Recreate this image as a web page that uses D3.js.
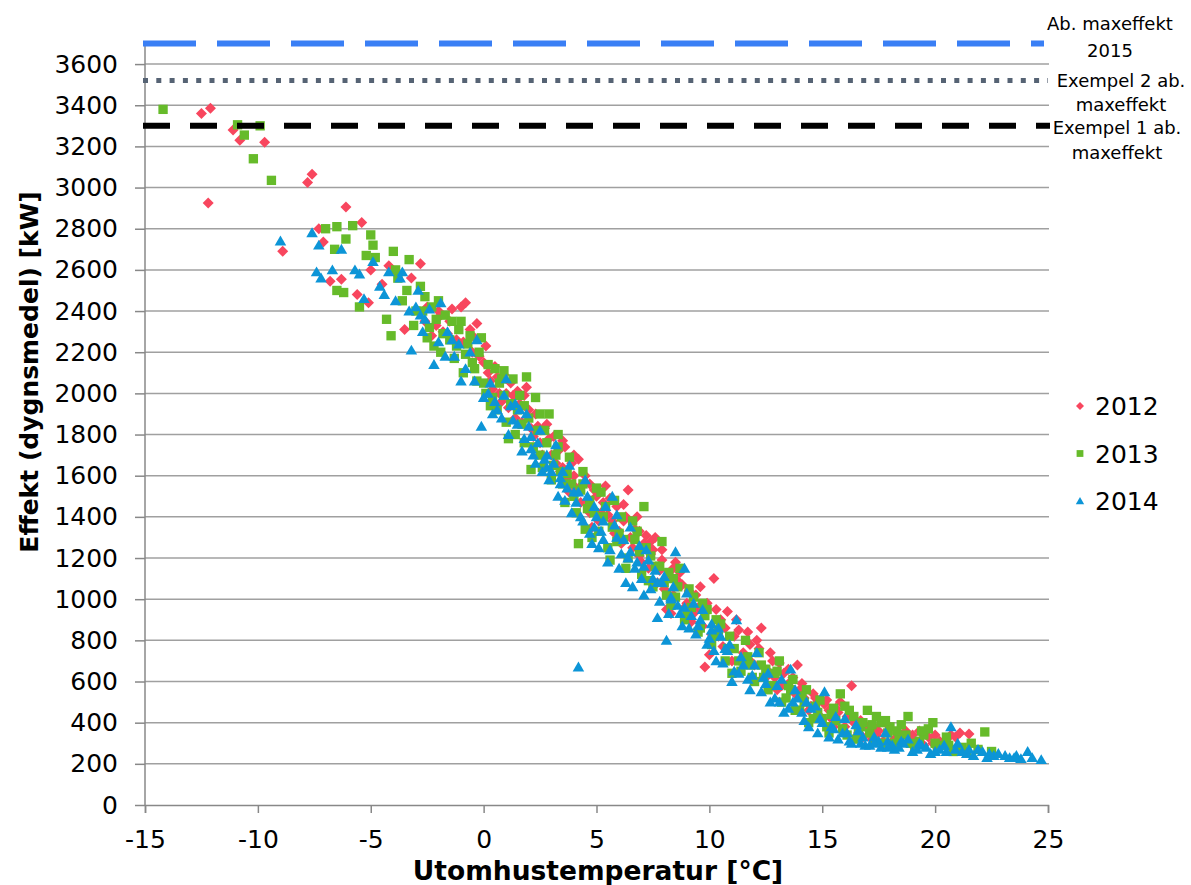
<!DOCTYPE html>
<html>
<head>
<meta charset="utf-8">
<script src="https://cdn.jsdelivr.net/npm/d3@7/dist/d3.min.js"></script>
<style>
  body { margin: 0; background: #fff; }
  text { font-family: 'DejaVu Sans', Verdana, sans-serif; fill: #000; }
</style>
</head>
<body>
<svg id="chart" width="1191" height="885"></svg>
<script>
// [temperatur, effekt]
const data2012 = [
  [-12.5, 3360], [-12.1, 3385], [-12.2, 2925], [-11.1, 3280], [-10.8, 3230], [-9.7, 3220],
  [-7.8, 3025], [-7.6, 3065], [-8.9, 2690], [-7.3, 2800], [-7.1, 2735], [-6.1, 2905],
  [-5.4, 2830], [-6.8, 2545], [-6.3, 2555], [-5.6, 2480], [-5.1, 2440], [-5.0, 2600],
  [-4.5, 2530], [-4.2, 2620], [-3.5, 2310], [-3.2, 2560], [-2.8, 2630], [-2.6, 2350],
  [-2.3, 2280], [-2.0, 2400], [-1.8, 2300], [-1.5, 2350], [-1.2, 2260], [-1.0, 2420],
  [-0.8, 2440], [-0.5, 2200], [-0.3, 2340], [0.0, 2150], [0.2, 2100], [0.4, 2020],
  [0.6, 2080], [0.8, 1960], [1.0, 2000], [1.2, 2050], [1.4, 1880], [1.6, 1950],
  [1.9, 2030], [2.1, 1830], [2.3, 1900], [2.5, 1760], [2.8, 1850], [3.0, 1700],
  [3.1, 1790], [3.4, 1620], [3.6, 1740], [3.8, 1520], [4.0, 1600], [4.2, 1680],
  [4.4, 1560], [4.6, 1480], [4.8, 1350], [5.0, 1500], [5.2, 1420], [5.4, 1550],
  [5.7, 1380], [6.0, 1330], [6.2, 1460], [6.4, 1530], [6.6, 1250], [6.8, 1400],
  [7.0, 1180], [7.2, 1310], [7.4, 1220], [7.6, 1300], [7.8, 1140], [8.0, 1050],
  [8.1, 950], [8.3, 930], [8.5, 1180], [8.8, 1070], [9.0, 980], [9.2, 890],
  [9.5, 960], [9.8, 670], [10.0, 730], [10.2, 1100], [10.4, 820], [10.6, 770],
  [10.8, 940], [11.0, 700], [11.3, 850], [11.6, 720], [11.8, 780], [12.0, 680],
  [12.3, 860], [12.5, 620], [12.8, 700], [13.0, 560], [13.3, 640], [13.6, 600],
  [13.9, 680], [14.2, 520], [14.5, 480], [14.8, 500], [15.0, 420], [15.3, 460],
  [15.5, 380], [15.8, 500], [16.1, 430], [16.3, 580], [16.6, 350], [16.9, 390],
  [17.2, 320], [17.5, 360], [17.8, 400], [18.1, 310], [18.5, 340], [18.9, 300],
  [19.3, 360], [19.7, 330], [20.2, 310], [20.7, 340], [21.1, 350], [21.5, 345],
  [-2.5, 2420], [-2.1, 2330], [-1.6, 2290], [-1.4, 2410], [-0.9, 2250], [-0.6, 2310],
  [-0.2, 2180], [0.1, 2230], [0.3, 2060], [0.7, 2000], [0.9, 2090], [1.1, 1930],
  [1.3, 1990], [1.5, 2010], [1.7, 1860], [2.0, 1920], [2.2, 1790], [2.4, 1840],
  [2.6, 1700], [2.9, 1780], [3.2, 1660], [3.3, 1720], [3.5, 1640], [3.7, 1590],
  [3.9, 1660], [4.1, 1540], [4.3, 1470], [4.5, 1600], [4.7, 1420], [4.9, 1530],
  [5.1, 1380], [5.3, 1470], [5.5, 1410], [5.8, 1320], [5.9, 1450], [6.1, 1270],
  [6.3, 1400], [6.5, 1300], [6.7, 1340], [6.9, 1210], [7.1, 1270], [7.3, 1150],
  [7.5, 1240], [7.7, 1080], [7.9, 1190], [8.2, 1120], [8.4, 1020], [8.6, 1090],
  [8.9, 960], [9.1, 1040], [9.3, 930], [9.7, 870], [9.9, 980], [10.1, 830],
  [10.5, 900], [10.9, 760], [11.1, 820], [11.5, 740], [11.9, 690], [12.2, 760],
  [12.6, 650], [12.9, 620], [13.2, 580], [13.5, 660], [13.8, 540], [14.1, 590],
  [14.4, 460], [14.7, 520], [15.1, 490], [15.4, 420], [15.7, 450], [16.0, 380],
  [16.4, 400], [16.8, 330], [17.1, 370], [17.4, 340], [17.7, 310], [18.3, 330],
  [18.7, 360], [19.1, 310], [19.5, 290], [20.0, 340], [20.5, 300],
  [-1.9, 2380], [-0.4, 2270], [0.5, 2130], [1.8, 1990], [2.7, 1830], [3.5, 1770],
  [4.0, 1700], [4.7, 1560], [5.6, 1490], [6.2, 1380], [6.9, 1330], [7.4, 1280],
  [7.9, 1240], [8.4, 1150], [8.7, 1130], [9.4, 1020], [9.6, 1060], [10.3, 950],
  [10.7, 860], [11.2, 900], [11.7, 840], [12.1, 800], [12.7, 740], [13.1, 690],
  [13.7, 620], [14.0, 560], [14.6, 540], [15.2, 510], [15.6, 470], [16.2, 440],
  [16.7, 410], [17.3, 380], [17.9, 350], [18.4, 320], [19.0, 340], [19.9, 300],
  [20.9, 330]
];

const data2013 = [
  [-14.2, 3380], [-10.9, 3305], [-10.6, 3255], [-10.2, 3140], [-9.9, 3300], [-9.4, 3035],
  [-7.0, 2800], [-6.5, 2810], [-5.8, 2815], [-6.6, 2700], [-6.1, 2750], [-5.0, 2770],
  [-4.9, 2720], [-5.2, 2670], [-4.8, 2660], [-6.5, 2500], [-6.2, 2490], [-5.5, 2420],
  [-4.3, 2360], [-4.1, 2280], [-4.0, 2690], [-3.8, 2560], [-3.6, 2450], [-3.3, 2650],
  [-3.0, 2400], [-2.8, 2520], [-2.6, 2470], [-2.4, 2320], [-2.2, 2230], [-2.0, 2450],
  [-1.9, 2200], [-1.7, 2380], [-1.5, 2260], [-1.3, 2170], [-1.1, 2310], [-0.9, 2100],
  [-0.7, 2240], [-0.5, 2150], [-0.3, 2060], [-0.1, 2270], [0.1, 2000], [0.3, 1940],
  [0.5, 2120], [0.7, 2050], [0.9, 1990], [1.1, 1780], [1.3, 2070], [1.5, 1920],
  [1.7, 1850], [1.9, 2080], [2.1, 1630], [2.3, 1980], [2.5, 1700], [2.7, 1820],
  [2.9, 1900], [3.1, 1650], [3.3, 1740], [3.5, 1560], [3.8, 1690], [4.0, 1500],
  [4.2, 1270], [4.4, 1620], [4.6, 1440], [4.8, 1300], [5.0, 1540], [5.3, 1400],
  [5.5, 1250], [5.8, 1480], [6.0, 1320], [6.3, 1150], [6.6, 1380], [6.9, 1230],
  [7.1, 1450], [7.3, 1090], [7.6, 1160], [7.9, 1280], [8.1, 1020], [8.4, 1100],
  [8.7, 1150], [9.0, 930], [9.3, 1010], [9.6, 860], [9.9, 950], [10.2, 820],
  [10.5, 880], [10.8, 760], [11.0, 640], [11.3, 700], [11.6, 800], [11.9, 620],
  [12.2, 740], [12.5, 660], [12.8, 580], [13.1, 700], [13.4, 520], [13.7, 610],
  [14.0, 460], [14.3, 560], [14.6, 420], [14.9, 510], [15.2, 380], [15.5, 470],
  [15.8, 540], [16.1, 340], [16.4, 430], [16.7, 380], [17.0, 460], [17.3, 310],
  [17.6, 400], [17.9, 350], [18.2, 300], [18.5, 390], [18.8, 430], [19.1, 280],
  [19.5, 340], [19.9, 400], [20.3, 290], [20.8, 260], [21.2, 280], [21.6, 300],
  [22.2, 355], [22.5, 260],
  [-3.9, 2600], [-3.4, 2500], [-3.1, 2330], [-2.7, 2400], [-2.5, 2270], [-2.1, 2360],
  [-1.8, 2290], [-1.4, 2350], [-1.2, 2230], [-0.8, 2190], [-0.6, 2280], [-0.4, 2120],
  [-0.2, 2200], [0.0, 2050], [0.2, 2140], [0.4, 1980], [0.6, 1920], [0.8, 2070],
  [1.0, 1860], [1.2, 1950], [1.4, 1800], [1.6, 1990], [1.8, 1760], [2.0, 1880],
  [2.2, 1740], [2.4, 1820], [2.6, 1640], [2.8, 1760], [3.0, 1580], [3.2, 1700],
  [3.4, 1620], [3.6, 1470], [3.9, 1560], [4.1, 1420], [4.3, 1530], [4.5, 1340],
  [4.7, 1480], [4.9, 1420], [5.1, 1330], [5.4, 1450], [5.6, 1190], [5.9, 1280],
  [6.1, 1400], [6.4, 1200], [6.7, 1290], [7.0, 1120], [7.2, 1250], [7.5, 1060],
  [7.8, 1160], [8.0, 1080], [8.3, 970], [8.6, 1060], [8.9, 900], [9.2, 960],
  [9.5, 840], [9.8, 920], [10.1, 780], [10.4, 850], [10.7, 700], [11.1, 760],
  [11.4, 650], [11.7, 720], [12.0, 600], [12.3, 680], [12.6, 560], [12.9, 640],
  [13.2, 500], [13.5, 580], [13.8, 460], [14.1, 530], [14.4, 400], [14.7, 480],
  [15.0, 420], [15.3, 350], [15.6, 410], [15.9, 370], [16.2, 460], [16.5, 320],
  [16.8, 400], [17.1, 350], [17.4, 430], [17.7, 300], [18.0, 380], [18.4, 320],
  [18.7, 340], [19.3, 310], [19.7, 370], [20.1, 280], [20.6, 290], [21.4, 260],
  [21.9, 270],
  [-2.3, 2420], [-1.0, 2350], [0.9, 2110], [1.8, 1940], [2.5, 1900], [3.3, 1800],
  [3.7, 1610], [4.4, 1560], [5.2, 1520], [5.7, 1350], [6.2, 1290], [6.8, 1330],
  [7.4, 1210], [8.2, 1130], [8.5, 1010], [9.1, 1050], [9.7, 980], [10.3, 900],
  [10.9, 820], [11.5, 700], [11.8, 680], [12.4, 620], [13.0, 650], [13.6, 560],
  [14.2, 500], [14.8, 450], [15.4, 440], [16.0, 480], [16.6, 360], [17.2, 390],
  [17.8, 410], [18.3, 360], [18.9, 300], [19.4, 360], [20.0, 300], [20.5, 330],
  [21.0, 270]
];

const data2014 = [
  [-9.0, 2740], [-7.6, 2780], [-7.3, 2720], [-6.7, 2600], [-7.4, 2590], [-7.2, 2560],
  [-6.3, 2700], [-5.7, 2600], [-5.5, 2580], [-5.3, 2460], [-4.9, 2640], [-4.6, 2520],
  [-4.2, 2590], [-3.9, 2450], [-3.6, 2590], [-3.3, 2400], [-3.2, 2210], [-2.9, 2500],
  [-2.6, 2360], [-2.2, 2140], [-1.9, 2440], [-1.6, 2300], [-1.3, 2180], [-1.0, 2060],
  [-0.6, 2200], [-0.3, 2260], [-0.1, 1840], [0.2, 2000], [0.5, 1960], [0.8, 1880],
  [1.0, 2070], [1.2, 1940], [1.5, 1850], [1.7, 1720], [1.9, 1900], [2.1, 1790],
  [2.3, 1660], [2.5, 1820], [2.8, 1700], [3.0, 1620], [3.2, 1750], [3.4, 1560],
  [3.6, 1480], [3.8, 1650], [4.0, 1520], [4.2, 670], [4.3, 1400], [4.5, 1580],
  [4.7, 1320], [4.9, 1450], [5.1, 1250], [5.3, 1380], [5.5, 1180], [5.7, 1500],
  [5.9, 1300], [6.1, 1220], [6.3, 1080], [6.5, 1350], [6.7, 1150], [6.9, 1260],
  [7.1, 1020], [7.3, 1190], [7.5, 1100], [7.7, 910], [7.9, 1080], [8.1, 800],
  [8.3, 1000], [8.5, 1230], [8.7, 930], [8.9, 1150], [9.1, 860], [9.3, 980],
  [9.6, 900], [9.9, 780], [10.1, 880], [10.3, 700], [10.5, 820], [10.8, 750],
  [11.0, 600], [11.2, 900], [11.5, 680], [11.8, 560], [12.1, 740], [12.4, 620],
  [12.7, 500], [13.0, 580], [13.3, 450], [13.6, 660], [13.9, 520], [14.2, 410],
  [14.5, 470], [14.8, 350], [15.1, 550], [15.4, 380], [15.7, 320], [16.0, 420],
  [16.3, 300], [16.6, 360], [16.9, 290], [17.3, 330], [17.6, 280], [17.9, 310],
  [18.2, 270], [18.6, 300], [19.0, 260], [19.4, 290], [19.8, 250], [20.2, 270],
  [20.7, 380], [21.0, 300], [21.4, 250], [21.9, 270], [22.3, 230], [22.8, 250],
  [23.3, 230], [23.8, 225], [24.1, 260], [24.7, 220],
  [-4.4, 2480], [-3.7, 2560], [-3.0, 2420], [-2.7, 2300], [-2.4, 2410], [-2.0, 2250],
  [-1.7, 2180], [-1.1, 2240], [-0.8, 2120], [-0.4, 2060], [0.0, 1980], [0.3, 2050],
  [0.6, 1920], [0.9, 1990], [1.1, 1800], [1.3, 1870], [1.6, 1920], [1.8, 1780],
  [2.0, 1840], [2.2, 1700], [2.4, 1760], [2.6, 1620], [2.7, 1680], [2.9, 1580],
  [3.1, 1660], [3.3, 1500], [3.5, 1620], [3.7, 1540], [3.9, 1420], [4.1, 1470],
  [4.4, 1380], [4.6, 1500], [4.8, 1270], [5.0, 1400], [5.2, 1330], [5.4, 1450],
  [5.6, 1240], [5.8, 1360], [6.0, 1150], [6.2, 1290], [6.4, 1200], [6.6, 1060],
  [6.8, 1180], [7.0, 1100], [7.2, 1240], [7.4, 1050], [7.6, 1140], [7.8, 990],
  [8.0, 1110], [8.2, 930], [8.4, 1060], [8.6, 970], [8.8, 870], [9.0, 1030],
  [9.2, 920], [9.4, 830], [9.7, 950], [10.0, 810], [10.2, 750], [10.4, 860],
  [10.6, 690], [10.9, 780], [11.1, 650], [11.4, 720], [11.7, 610], [12.0, 680],
  [12.3, 550], [12.6, 640], [12.9, 520], [13.2, 610], [13.5, 470], [13.8, 560],
  [14.1, 450], [14.4, 380], [14.7, 480], [15.0, 400], [15.3, 330], [15.6, 430],
  [15.9, 350], [16.2, 310], [16.5, 390], [16.8, 330], [17.1, 290], [17.5, 310],
  [17.8, 350], [18.1, 290], [18.4, 280], [18.8, 320], [19.2, 270], [19.6, 280],
  [20.0, 260], [20.4, 290], [20.9, 270], [21.2, 260], [21.7, 240], [22.1, 260],
  [22.6, 240], [23.1, 240], [23.6, 240], [24.3, 230],
  [-2.8, 2380], [-1.4, 2260], [0.4, 1900], [1.4, 1950], [2.1, 1730], [2.8, 1640],
  [3.4, 1590], [4.2, 1520], [4.9, 1350], [5.3, 1290], [5.9, 1410], [6.5, 1230],
  [7.1, 1160], [7.7, 1080], [8.3, 1010], [8.9, 960], [9.5, 870], [10.1, 850],
  [10.7, 760], [11.3, 640], [11.9, 630], [12.5, 590], [13.1, 500], [13.7, 500],
  [14.3, 500], [14.9, 420], [15.5, 370], [16.1, 350], [16.7, 300], [17.3, 300],
  [17.9, 280], [18.5, 310], [19.3, 300], [20.5, 260], [21.5, 270], [22.4, 250],
  [23.5, 230]
];

const years = ['2012', '2013', '2014'];
const yearColors = ['#f8465e', '#66bb2a', '#0c95d7'];
const yTicks = d3.range(0, 3601, 200);
const xTicks = [-15, -10, -5, 0, 5, 10, 15, 20, 25];

// referenslinjer
const refLines = [
  { value: 3700, color: '#3a7ff5', dash: '53,21', width: 6, x2: 1044 },
  { value: 3520, color: '#566374', dash: '5,8.3', width: 5, x2: 1048 },
  { value: 3300, color: '#000000', dash: '27,20', width: 6, x2: 1050 }
];
const refLabels = [
  { lines: ['Ab. maxeffekt', '2015'], x: 1110, y: 30, gap: 27 },
  { lines: ['Exempel 2 ab.', 'maxeffekt'], x: 1121, y: 87, gap: 24 },
  { lines: ['Exempel 1 ab.', 'maxeffekt'], x: 1117, y: 134, gap: 25 }
];

const svg = d3.select('#chart');
const x = d3.scaleLinear().domain([-15, 25]).range([145, 1048]);
const y = d3.scaleLinear().domain([0, 3700]).range([805, 43.5]);

// rutnät
svg
  .append('g')
  .selectAll('line')
  .data(yTicks.slice(1))
  .join('line')
  .attr('x1', 145)
  .attr('x2', 1049)
  .attr('y1', (d) => y(d))
  .attr('y2', (d) => y(d))
  .attr('stroke', '#a0a0a0')
  .attr('stroke-width', 1.5);

// y-axel
let yAxis = svg
  .append('g')
  .attr('transform', 'translate(145,0)')
  .call(
    d3
      .axisLeft(y)
      .tickValues(yTicks)
      .tickFormat((d) => String(d))
      .tickSize(10)
      .tickPadding(17)
  );
yAxis.select('.domain').attr('stroke', '#888').attr('stroke-width', 1.5).attr('d', 'M0,805V44');
yAxis.selectAll('.tick line').attr('stroke', '#888').attr('stroke-width', 1.5);
yAxis
  .selectAll('.tick text')
  .style('font-size', '25px')
  .style('font-family', "'DejaVu Sans', Verdana, sans-serif")
  .attr('fill', '#000');

// x-axel
let xAxis = svg
  .append('g')
  .attr('transform', 'translate(0,805)')
  .call(
    d3
      .axisBottom(x)
      .tickValues(xTicks)
      .tickFormat((d) => String(d))
      .tickSize(8)
      .tickPadding(17)
  );
xAxis.select('.domain').attr('stroke', '#888').attr('stroke-width', 1.5);
xAxis.selectAll('.tick line').attr('stroke', '#888').attr('stroke-width', 1.5);
xAxis
  .selectAll('.tick text')
  .style('font-size', '25px')
  .style('font-family', "'DejaVu Sans', Verdana, sans-serif")
  .attr('fill', '#000');

// markörer
function markerPath(type, s) {
  if (type === 0) {
    return `M0,${-s}L${s},0L0,${s}L${-s},0Z`;
  } else if (type === 1) {
    let h = s * 0.85;
    return `M${-h},${-h}H${h}V${h}H${-h}Z`;
  }
  let w = s * 1.05;
  return `M0,${-s}L${w},${s * 0.8}L${-w},${s * 0.8}Z`;
}

const allData = [data2012, data2013, data2014];
allData.forEach((series, i) => {
  svg
    .append('g')
    .selectAll('path')
    .data(series)
    .join('path')
    .attr('transform', (d) => `translate(${x(d[0])},${y(d[1])})`)
    .attr('d', markerPath(i, 5.5))
    .attr('fill', yearColors[i]);
});

// referenslinjer
svg
  .append('g')
  .selectAll('line')
  .data(refLines)
  .join('line')
  .attr('x1', 143)
  .attr('x2', (d) => d.x2)
  .attr('y1', (d) => y(d.value))
  .attr('y2', (d) => y(d.value))
  .attr('stroke', (d) => d.color)
  .attr('stroke-width', (d) => d.width)
  .attr('stroke-dasharray', (d) => d.dash);

let labelGroups = svg.append('g').selectAll('text').data(refLabels).join('text')
  .attr('text-anchor', 'middle')
  .style('font-size', '18px');
labelGroups
  .selectAll('tspan')
  .data((d) => d.lines.map((l, i) => ({ text: l, x: d.x, y: d.y + i * d.gap })))
  .join('tspan')
  .attr('x', (d) => d.x)
  .attr('y', (d) => d.y)
  .text((d) => d.text);

// legend
let legend = svg
  .append('g')
  .selectAll('g')
  .data(years)
  .join('g')
  .attr('transform', (d, i) => `translate(1080,${406 + i * 47.5})`);
legend
  .append('path')
  .attr('d', (d, i) => markerPath(i, 4))
  .attr('fill', (d, i) => yearColors[i]);
legend
  .append('text')
  .attr('x', 15)
  .attr('y', 9)
  .style('font-size', '25px')
  .text((d) => d);

// axeltitlar
svg
  .append('text')
  .attr('x', 598)
  .attr('y', 880)
  .attr('text-anchor', 'middle')
  .style('font-size', '26.5px')
  .style('font-weight', 'bold')
  .text('Utomhustemperatur [°C]');
svg
  .append('text')
  .attr('transform', 'translate(38,372) rotate(-90)')
  .attr('text-anchor', 'middle')
  .style('font-size', '25px')
  .style('font-weight', 'bold')
  .text('Effekt (dygnsmedel) [kW]');
</script>
</body>
</html>
